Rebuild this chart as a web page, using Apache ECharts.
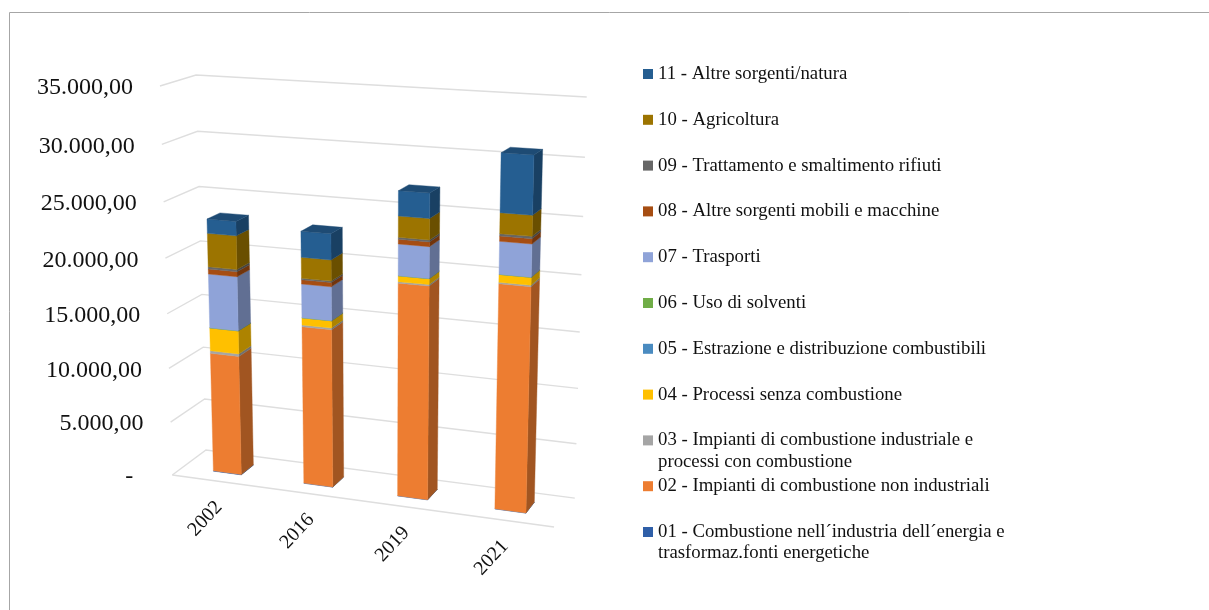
<!DOCTYPE html>
<html>
<head>
<meta charset="utf-8">
<style>html,body{margin:0;padding:0;background:#fff}#chart{width:1209px;height:610px}</style>
<script src="https://cdn.jsdelivr.net/npm/echarts@6/dist/echarts.min.js"></script>
</head>
<body>
<div id="chart"></div>
<script>
// Categories and axis labels
const years = ['2002', '2016', '2019', '2021'];
const tickValues = [0, 5000, 10000, 15000, 20000, 25000, 30000, 35000];
const tickLabels = ['-', '5.000,00', '10.000,00', '15.000,00', '20.000,00', '25.000,00', '30.000,00', '35.000,00'];

// Emissions by source sector, one array per stacked sector (bottom to top)
const s01 = [40, 20, 20, 20];
const s02 = [11050, 14400, 19100, 19850];
const s03 = [240, 157, 126, 126];
const s04 = [2107, 650, 516, 675];
const s05 = [6, 4, 4, 4];
const s06 = [4, 2, 2, 2];
const s07 = [4890, 3008, 2740, 2793];
const s08 = [451, 373, 404, 446];
const s09 = [207, 133, 172, 195];
const s10 = [2997, 1857, 1823, 1758];
const s11 = [1273, 2282, 2152, 4967];

const sectors = [
  { name: '01 - Combustione nell´industria dell´energia e\ntrasformaz.fonti energetiche', values: s01, color: '#2f5fa8' },
  { name: '02 - Impianti di combustione non industriali', values: s02, color: '#ed7d31' },
  { name: '03 - Impianti di combustione industriale e\nprocessi con combustione', values: s03, color: '#a5a5a5' },
  { name: '04 - Processi senza combustione', values: s04, color: '#ffc000' },
  { name: '05 - Estrazione e distribuzione combustibili', values: s05, color: '#4a8bc0' },
  { name: '06 - Uso di solventi', values: s06, color: '#70ad47' },
  { name: '07 - Trasporti', values: s07, color: '#8fa3d8' },
  { name: '08 - Altre sorgenti mobili e macchine', values: s08, color: '#a64d12' },
  { name: '09 - Trattamento e smaltimento rifiuti', values: s09, color: '#666666' },
  { name: '10 - Agricoltura', values: s10, color: '#9c7400' },
  { name: '11 - Altre sorgenti/natura', values: s11, color: '#255e91' }
];

// Legend rows: evenly spaced first lines, wrapped names continue on a line below their row
const LEGEND_LEFT = 643, LEGEND_TOP = 63, LEGEND_STEP = 45.8, LEGEND_MARK = 10, LEGEND_LEADING = 22;
const legendOrder = sectors.map(s => s.name).reverse();

// Perspective camera: maps the unit box (x along categories, y along values, z into depth) to the page
const ORIGIN = [172.3, 475];
const AX = [342.4, 14.6], AY = [-21.3, -393.8], AZ = [41.7, -7.4];
const CX = -0.071, CY = -0.056, CZ = 0.039;
function project(x, y, z) {
  const w = 1 + CX * x + CY * y + CZ * z;
  return [
    (ORIGIN[0] + AX[0] * x + AY[0] * y + AZ[0] * z) / w,
    (ORIGIN[1] + AX[1] * x + AY[1] * y + AZ[1] * z) / w
  ];
}

// Converts a point on the hidden cartesian axes to unit-box coordinates
function toUnit(params, api, cat, value) {
  const p = api.coord([cat, value]);
  const r = params.coordSys;
  return [(p[0] - r.x) / r.width, (r.y + r.height - p[1]) / r.height];
}

function shade(hex, f) {
  const n = parseInt(hex.slice(1), 16);
  const c = [(n >> 16) & 255, (n >> 8) & 255, n & 255].map(v => Math.round(v * f));
  return 'rgb(' + c.join(',') + ')';
}

function poly(points, fill) {
  return {
    type: 'polygon',
    shape: { points: points },
    style: { fill: fill, stroke: fill, lineWidth: 0.4 }
  };
}

const Z_FRONT = 0.31, Z_BACK = 0.69, BAR_RATIO = 0.312;

function barSegment(color, isTop) {
  return function (params, api) {
    const cat = api.value(0), lo = api.value(1), hi = api.value(2);
    const half = api.size([1, 0])[0] * BAR_RATIO / 2 / params.coordSys.width;
    const a = toUnit(params, api, cat, lo);
    const b = toUnit(params, api, cat, hi);
    const x0 = a[0] - half, x1 = a[0] + half;
    const children = [
      // right-hand side of the column
      poly([project(x1, a[1], Z_FRONT), project(x1, a[1], Z_BACK), project(x1, b[1], Z_BACK), project(x1, b[1], Z_FRONT)], shade(color, 0.68)),
      // front of the column
      poly([project(x0, a[1], Z_FRONT), project(x1, a[1], Z_FRONT), project(x1, b[1], Z_FRONT), project(x0, b[1], Z_FRONT)], color)
    ];
    if (isTop) {
      children.push(poly([project(x0, b[1], Z_FRONT), project(x1, b[1], Z_FRONT), project(x1, b[1], Z_BACK), project(x0, b[1], Z_BACK)], shade(color, 0.8)));
    }
    return { type: 'group', children: children };
  };
}

function gridLine(points) {
  return {
    type: 'polyline',
    shape: { points: points },
    style: { fill: 'none', stroke: '#dedede', lineWidth: 1.4 }
  };
}

// Walls and floor: side-wall and back-wall line for every tick, plus the front floor edge
function renderWalls(params, api) {
  const y = toUnit(params, api, 0, api.value(0))[1];
  const children = [gridLine([project(0, y, 0), project(0, y, 1), project(1, y, 1)])];
  if (api.value(0) === 0) children.push(gridLine([project(0, 0, 0), project(1, 0, 0)]));
  return { type: 'group', children: children };
}

function renderTickLabel(params, api) {
  const y = toUnit(params, api, 0, api.value(0))[1];
  const p = project(0, y, 0);
  const label = tickLabels[params.dataIndex];
  return {
    type: 'text',
    x: p[0] - (label === '-' ? 39 : 27),
    y: p[1] + 2,
    style: { text: label, align: 'right', verticalAlign: 'middle', fill: '#111', font: '24px "Liberation Serif"' }
  };
}

function renderYearLabel(params, api) {
  const x = toUnit(params, api, api.value(0), 0)[0];
  const p = project(x, 0, 0);
  return {
    type: 'text',
    x: p[0] + 2,
    y: p[1] + 23,
    rotation: 47 * Math.PI / 180,
    style: { text: years[params.dataIndex], align: 'right', verticalAlign: 'middle', fill: '#111', font: '20px "Liberation Serif"' }
  };
}

const running = [0, 0, 0, 0];
const barSeries = sectors.map((s, i) => ({
  type: 'custom',
  name: s.name,
  z: 3,
  itemStyle: { color: s.color },
  renderItem: barSegment(s.color, i === sectors.length - 1),
  encode: { x: 0, y: 2 },
  data: s.values.map((v, c) => {
    const row = [c, running[c], running[c] + v];
    running[c] += v;
    return row;
  })
}));

// Second lines of the wrapped legend names
const legendContinuations = [];
legendOrder.forEach((name, row) => {
  const parts = name.split('\n');
  if (parts.length > 1) {
    legendContinuations.push({
      type: 'text',
      silent: true,
      x: LEGEND_LEFT + 15,
      y: LEGEND_TOP + 11 + row * LEGEND_STEP + LEGEND_LEADING - 0.5,
      style: { text: parts[1], fill: '#111', verticalAlign: 'middle', font: '18.8px "Liberation Serif"' }
    });
  }
});

const chart = echarts.init(document.getElementById('chart'));
chart.setOption({
  animation: false,
  backgroundColor: '#fff',
  grid: { left: 200, right: 200, top: 100, bottom: 100 },
  xAxis: { type: 'category', data: years, show: false },
  yAxis: { type: 'value', min: 0, max: 35000, interval: 5000, show: false },
  legend: {
    orient: 'vertical',
    left: LEGEND_LEFT,
    top: LEGEND_TOP,
    icon: 'rect',
    itemWidth: LEGEND_MARK,
    itemHeight: LEGEND_MARK,
    itemGap: LEGEND_STEP - LEGEND_LEADING,
    selectedMode: false,
    padding: 0,
    data: legendOrder,
    formatter: name => name.split('\n')[0],
    textStyle: {
      fontFamily: '"Liberation Serif"',
      fontSize: 18.8,
      lineHeight: 22,
      color: '#111'
    }
  },
  graphic: [{
    type: 'polyline',
    silent: true,
    shape: { points: [[9.5, 610], [9.5, 12.5], [1209, 12.5]] },
    style: { fill: 'none', stroke: '#a6a6a6', lineWidth: 1 }
  }].concat(legendContinuations),
  series: [
    { type: 'custom', z: 1, silent: true, renderItem: renderWalls, encode: { y: 0 }, data: tickValues.map(v => [v]) },
    { type: 'custom', z: 2, silent: true, renderItem: renderTickLabel, encode: { y: 0 }, data: tickValues.map(v => [v]) },
    { type: 'custom', z: 2, silent: true, renderItem: renderYearLabel, encode: { x: 0 }, data: years.map((y, i) => [i]) }
  ].concat(barSeries)
});
</script>
</body>
</html>
